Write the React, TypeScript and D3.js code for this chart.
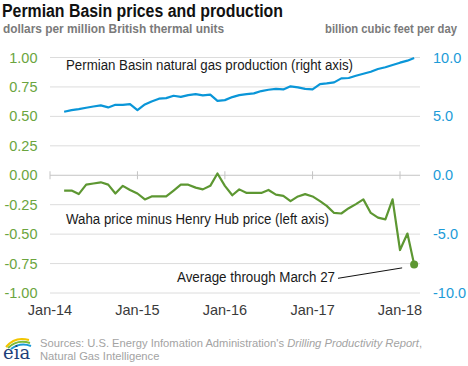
import React from 'react';
import * as d3 from 'd3';

// monthly, Mar 2014 .. Mar 2018
const startMonth = new Date(2014, 2, 1);
const wahaSpread = [
  -0.13, -0.13, -0.16, -0.08, -0.07, -0.06, -0.08, -0.155, -0.09, -0.125,
  -0.155, -0.205, -0.18, -0.18, -0.18, -0.13, -0.08, -0.08, -0.105, -0.12, -0.09, 0.015,
  -0.09, -0.17, -0.12, -0.15, -0.15, -0.15, -0.125, -0.165, -0.175, -0.22, -0.18, -0.16,
  -0.18, -0.22, -0.26, -0.32, -0.325, -0.28, -0.245, -0.205, -0.32, -0.36, -0.375, -0.205,
  -0.635, -0.495, -0.757,
];
const production = [
  5.39, 5.53, 5.62, 5.73, 5.84, 5.93, 5.76, 5.98, 5.98, 6.04,
  5.53, 6.01, 6.27, 6.5, 6.55, 6.75, 6.66, 6.81, 6.89, 6.78, 6.84, 6.32,
  6.38, 6.64, 6.8, 6.89, 6.95, 7.15, 7.26, 7.34, 7.29, 7.55, 7.46, 7.34,
  7.29, 7.74, 7.8, 7.89, 8.23, 8.26, 8.45, 8.62, 8.79, 9.02, 9.17, 9.36,
  9.56, 9.73, 9.96,
];
const leftTicks = [1, 0.75, 0.5, 0.25, 0, -0.25, -0.5, -0.75, -1];
const rightTicks = [10, 5, 0, -5, -10];
const xTickYears = [2014, 2015, 2016, 2017, 2018];

const GREEN = '#5D9732';
const GREEN_TXT = '#6BA53E';
const BLUE = '#0A96D8';
const BLUE_TXT = '#1C9BD8';
const FONT = 'Arial, "Liberation Sans", sans-serif';

const monthDate = (i: number) => d3.timeMonth.offset(startMonth, i);

export default function App() {
  const W = 468, H = 366;
  const x = d3.scaleTime().domain([new Date(2014, 0, 1), new Date(2018, 0, 1)]).range([50, 400]);
  const yL = d3.scaleLinear().domain([-1, 1]).range([293, 57.5]);
  const yR = d3.scaleLinear().domain([-10, 10]).range([293, 57.5]);
  const plotRight = 420;

  const greenLine = d3.line<number>().x((_, i) => x(monthDate(i))).y(d => yL(d));
  const blueLine = d3.line<number>().x((_, i) => x(monthDate(i))).y(d => yR(d));

  const lastIdx = wahaSpread.length - 1;
  const lastX = x(monthDate(lastIdx));
  const lastY = yL(wahaSpread[lastIdx]);

  return (
    <svg width={W} height={H} style={{ position: 'absolute', left: 0, top: 0, background: '#fff' }} fontFamily={FONT}>
      {/* titles */}
      <text x={2} y={16.8} fontSize={17.5} fontWeight="bold" fill="#111" textLength={281} lengthAdjust="spacingAndGlyphs">Permian Basin prices and production</text>
      <text x={3} y={33} fontSize={12} fontWeight="bold" fill="#7a7a7a" textLength={221} lengthAdjust="spacingAndGlyphs">dollars per million British thermal units</text>
      <text x={325} y={33} fontSize={12} fontWeight="bold" fill="#7a7a7a" textLength={132} lengthAdjust="spacingAndGlyphs">billion cubic feet per day</text>

      {/* gridlines */}
      {leftTicks.filter(t => t !== 0).map(t => (
        <line key={t} x1={50} x2={plotRight} y1={yL(t)} y2={yL(t)} stroke="#dcdcdc" strokeWidth={1} />
      ))}
      <line x1={50} x2={plotRight} y1={yL(0)} y2={yL(0)} stroke="#c4c4c4" strokeWidth={1} />
      {xTickYears.map(yr => (
        <line key={yr} x1={x(new Date(yr, 0, 1))} x2={x(new Date(yr, 0, 1))} y1={yL(0) - 4} y2={yL(0) + 4} stroke="#c4c4c4" />
      ))}

      {/* left axis labels */}
      {leftTicks.map(t => (
        <text key={t} x={37.5} y={yL(t) + 5} fontSize={14.5} fill={GREEN_TXT} textAnchor="end">{t.toFixed(2)}</text>
      ))}
      {/* right axis labels */}
      {rightTicks.map(t => (
        <text key={t} x={433} y={yR(t) + 5} fontSize={14.5} fill={BLUE_TXT}>{t.toFixed(1)}</text>
      ))}
      {/* x axis labels */}
      {xTickYears.map(yr => (
        <text key={yr} x={x(new Date(yr, 0, 1))} y={315} fontSize={14.5} fill="#3a3a3a" textAnchor="middle">
          {d3.timeFormat('%b-%y')(new Date(yr, 0, 1))}
        </text>
      ))}

      {/* series */}
      <path d={blueLine(production) || ''} fill="none" stroke={BLUE} strokeWidth={2.2} strokeLinejoin="round" />
      <path d={greenLine(wahaSpread) || ''} fill="none" stroke={GREEN} strokeWidth={2.2} strokeLinejoin="round" />
      <circle cx={lastX} cy={lastY} r={4} fill={GREEN} />

      {/* annotations */}
      <text x={66} y={70} fontSize={14} fill="#1a1a1a" textLength={287} lengthAdjust="spacingAndGlyphs">Permian Basin natural gas production (right axis)</text>
      <text x={66} y={224} fontSize={14} fill="#1a1a1a" textLength={263} lengthAdjust="spacingAndGlyphs">Waha price minus Henry Hub price (left axis)</text>
      <text x={177} y={282} fontSize={14} fill="#1a1a1a" textLength={158} lengthAdjust="spacingAndGlyphs">Average through March 27</text>
      <line x1={338} y1={278.3} x2={lastX - 12} y2={lastY + 3.5} stroke="#111" strokeWidth={1} />

      {/* footer */}
      <g transform="translate(3,334)">
        <path d="M3,13 Q12,2 26,6" fill="none" stroke="#F2C500" strokeWidth={2} />
        <path d="M5,14 Q14,5 27,9" fill="none" stroke="#7DBB3A" strokeWidth={2} />
        <path d="M8,15 Q17,8 28,12" fill="none" stroke="#1B9AD6" strokeWidth={2} />
        <text x={0} y={25} fontSize={18} fontFamily='"DejaVu Serif", "Liberation Serif", serif' fill="#1d3f7a">eia</text>
      </g>
      <text x={40} y={347} fontSize={11.2} fill="#a3a3a3">
        Sources: U.S. Energy Infomation Administration's <tspan fontStyle="italic">Drilling Productivity Report</tspan>,
      </text>
      <text x={40} y={359.5} fontSize={11.2} fill="#a3a3a3">Natural Gas Intelligence</text>
    </svg>
  );
}
